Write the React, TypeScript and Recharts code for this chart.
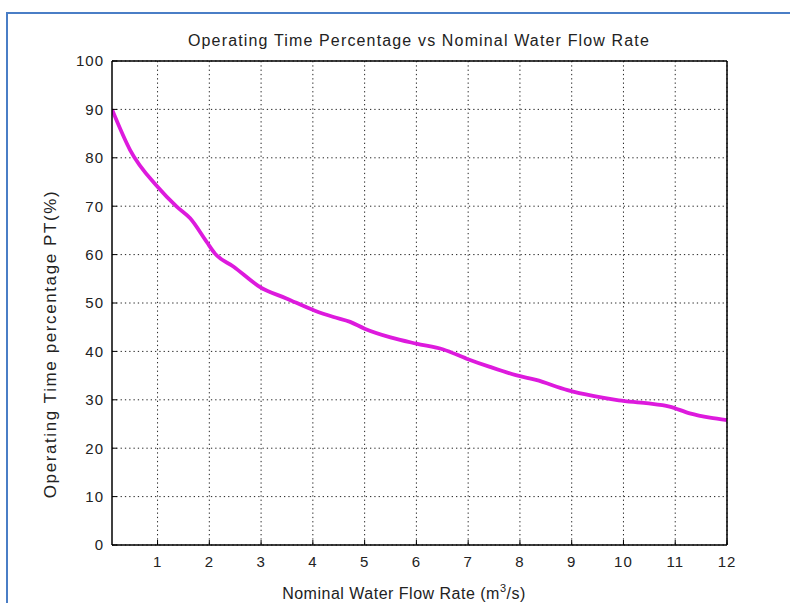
import React from "react";
import {
  LineChart,
  Line,
  XAxis,
  YAxis,
  CartesianGrid,
  Customized,
} from "recharts";

const flowRate = [0.12, 0.47, 1.0, 1.37, 1.63, 1.95, 2.11, 2.47, 2.98, 3.5, 4.04, 4.4, 4.72, 5.0, 5.5, 6.0, 6.52, 6.97, 7.42, 7.92, 8.31, 8.92, 9.41, 9.91, 10.44, 10.89, 11.28, 11.67, 12.0];
const operatingPct = [90, 81.6, 74.0, 69.9, 67.5, 62.6, 60.2, 57.5, 53.3, 50.9, 48.4, 47.1, 46.1, 44.7, 42.9, 41.6, 40.4, 38.5, 36.8, 35.1, 34.1, 32.0, 30.8, 29.9, 29.3, 28.6, 27.2, 26.3, 25.8];
const xTicks = [1, 2, 3, 4, 5, 6, 7, 8, 9, 10, 11, 12];
const yTicks = [0, 10, 20, 30, 40, 50, 60, 70, 80, 90, 100];

const titleText = "Operating Time Percentage vs Nominal Water Flow Rate";
const xLabelText = "Nominal Water Flow Rate (m";
const yLabelText = "Operating Time percentage PT(%)";

const data = flowRate.map((x, i) => ({ x, y: operatingPct[i] }));

const FONT = "'Liberation Sans', Arial, sans-serif";
const textColor = "#222";

const Texts = () => (
  <g fontFamily={FONT} fill={textColor}>
    <text x={419} y={46} textAnchor="middle" fontSize={16} letterSpacing={1.15}>
      {titleText}
    </text>
    <text x={404} y={599} textAnchor="middle" fontSize={16} letterSpacing={0.5}>
      {xLabelText}
      <tspan dy={-7} fontSize={11}>3</tspan>
      <tspan dy={7}>/s)</tspan>
    </text>
    <text
      x={0}
      y={0}
      transform="translate(56,344) rotate(-90)"
      textAnchor="middle"
      fontSize={17}
      letterSpacing={1.6}
    >
      {yLabelText}
    </text>
  </g>
);

export default function App() {
  return (
    <div style={{ position: "absolute", left: 0, top: 0, width: 790, height: 603, background: "#fff" }}>
      <div
        style={{
          position: "absolute",
          left: 6,
          top: 12,
          width: 790,
          height: 603,
          borderLeft: "2px solid #4a7ec6",
          borderTop: "2px solid #4a7ec6",
          boxSizing: "border-box",
        }}
      />
      <div style={{ position: "absolute", left: 0, top: 0 }}>
        <LineChart
          width={790}
          height={603}
          data={data}
          margin={{ top: 60, right: 62, bottom: 18, left: 62 }}
        >
          <CartesianGrid
            stroke="#222"
            strokeDasharray="1.3 3"
            horizontalValues={yTicks}
            verticalValues={xTicks}
          />
          <XAxis
            dataKey="x"
            type="number"
            domain={[0.12, 12]}
            ticks={xTicks}
            allowDataOverflow
            height={40}
            axisLine={{ stroke: "#000", strokeWidth: 1.5 }}
            tickLine={{ stroke: "#000" }}
            tickSize={-5}
            tickMargin={16}
            tick={{ fill: textColor, fontSize: 15, fontFamily: FONT, letterSpacing: 1 }}
            interval={0}
          />
          <XAxis
            xAxisId="top"
            dataKey="x"
            type="number"
            orientation="top"
            domain={[0.12, 12]}
            ticks={xTicks}
            allowDataOverflow
            height={1}
            axisLine={{ stroke: "#000", strokeWidth: 1.5 }}
            tickLine={{ stroke: "#000" }}
            tickSize={-5}
            tick={false}
            interval={0}
          />
          <YAxis
            type="number"
            domain={[0, 100]}
            ticks={yTicks}
            width={50}
            axisLine={{ stroke: "#000", strokeWidth: 1.5 }}
            tickLine={{ stroke: "#000" }}
            tickSize={-5}
            tickMargin={13}
            tick={{ fill: textColor, fontSize: 15, fontFamily: FONT, letterSpacing: 1 }}
            interval={0}
          />
          <YAxis
            yAxisId="right"
            orientation="right"
            type="number"
            domain={[0, 100]}
            ticks={yTicks}
            width={1}
            axisLine={{ stroke: "#000", strokeWidth: 1.5 }}
            tickLine={{ stroke: "#000" }}
            tickSize={-5}
            tick={false}
            interval={0}
          />
          <Line
            type="monotone"
            dataKey="y"
            stroke="#dd1add"
            strokeWidth={3.8}
            dot={false}
            isAnimationActive={false}
          />
          <Customized component={<Texts />} />
        </LineChart>
      </div>
    </div>
  );
}
